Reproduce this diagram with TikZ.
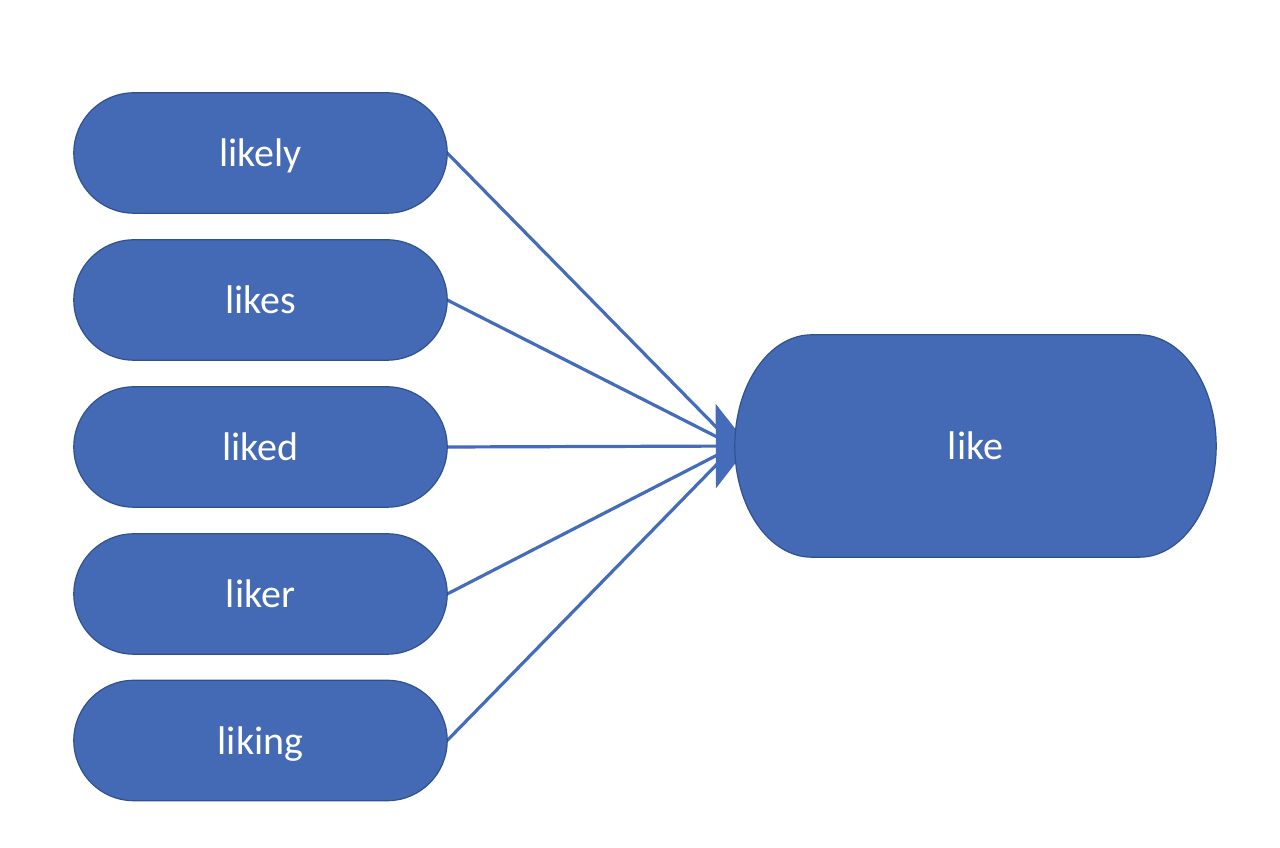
\documentclass[tikz,border=0pt]{standalone}
\usepackage{fontspec}
\setmainfont{Carlito}
\usetikzlibrary{arrows.meta,calc}
\pgfdeclarelayer{lines}
\pgfdeclarelayer{shapes}
\pgfsetlayers{lines,shapes,main}
\definecolor{nodeblue}{RGB}{68,106,181}
\definecolor{nodeedge}{RGB}{47,82,143}
\definecolor{lineblue}{RGB}{68,108,186}
\tikzset{
  word/.style={text=white, font=\fontsize{40}{48}\selectfont, inner sep=0pt,
    text height=38pt, text depth=10.8pt},
  smallterm/.style={word, minimum width=373pt, minimum height=120pt},
  bigterm/.style={word, minimum width=481pt, minimum height=222pt},
  termfill/.style={fill=nodeblue, draw=nodeedge, line width=1.2pt},
  conn/.style={draw=lineblue, line width=3.2pt},
}
\newcommand{\termshape}[2]{%
  \path[termfill] let \p1=(#1.north west), \p2=(#1.south east), \n1={(\y1-\y2)/2} in
    (\x1+#2pt,\y1) -- (\x2-#2pt,\y1)
    arc[start angle=90,end angle=-90,x radius=#2pt,y radius=\n1]
    -- (\x1+#2pt,\y2)
    arc[start angle=270,end angle=90,x radius=#2pt,y radius=\n1] -- cycle;}
\begin{document}
\begin{tikzpicture}[x=1pt,y=1pt]
\useasboundingbox (0,0) rectangle (1280,848);
\node[smallterm] (likely) at (260.5,695) {likely};
\node[smallterm] (likes) at (260.5,548) {likes};
\node[smallterm] (liked) at (260.5,401) {liked};
\node[smallterm] (liker) at (260.5,254) {liker};
\node[smallterm] (liking) at (260.5,107.5) {liking};
\node[bigterm] (like) at (975.5,402) {like};
\begin{pgfonlayer}{shapes}
\foreach \nm/\rr in {likely/60,likes/60,liked/60,liker/60,liking/60,like/77}{\termshape{\nm}{\rr}}
\end{pgfonlayer}
\begin{pgfonlayer}{lines}
\draw[conn] (likely.east) -- (like.west);
\draw[conn] (likes.east) -- (like.west);
\draw[conn, -{Triangle[length=33pt,width=84pt]}] (liked.east) -- ([xshift=14pt]like.west);
\draw[conn] (liker.east) -- (like.west);
\draw[conn] (liking.east) -- (like.west);
\end{pgfonlayer}
\end{tikzpicture}
\end{document}
